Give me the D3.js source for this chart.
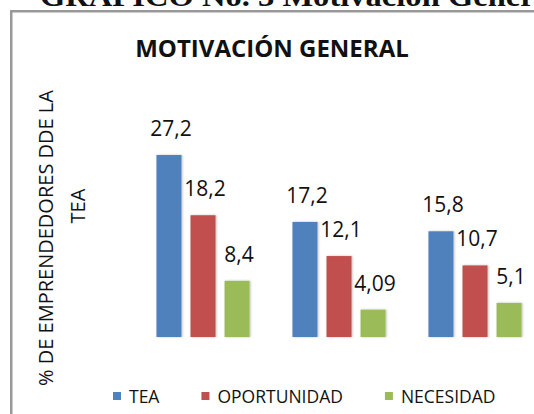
<!DOCTYPE html>
<html>
<head>
<meta charset="utf-8">
<script src="https://cdn.jsdelivr.net/npm/d3@7"></script>
<style>
  html, body { margin: 0; padding: 0; background: #fff; }
  svg { display: block; font-family: "Open Sans", sans-serif; }
</style>
</head>
<body>
<svg id="chart"></svg>
<script>
const width = 534;
const height = 414;

const categories = ["Grupo 1", "Grupo 2", "Grupo 3"];
const series = ["TEA", "OPORTUNIDAD", "NECESIDAD"];
const teaValues = [27.2, 17.2, 15.8];
const oportunidadValues = [18.2, 12.1, 10.7];
const necesidadValues = [8.4, 4.09, 5.1];
const valueLabels = [
  ["27,2", "18,2", "8,4"],
  ["17,2", "12,1", "4,09"],
  ["15,8", "10,7", "5,1"]
];
const colors = ["#4F81BD", "#C0504D", "#9BBB59"];

const svg = d3.select("#chart")
  .attr("width", width)
  .attr("height", height)
  .attr("viewBox", `0 0 ${width} ${height}`);

const defs = svg.append("defs");
const shadow = defs.append("filter")
  .attr("id", "barShadow")
  .attr("x", "-20%").attr("y", "-20%")
  .attr("width", "140%").attr("height", "140%");
shadow.append("feDropShadow")
  .attr("dx", 1).attr("dy", 0)
  .attr("stdDeviation", 1.2)
  .attr("flood-color", "#000")
  .attr("flood-opacity", 0.25);

// caption above the frame, mostly cut off at the top (as in the source page)
svg.append("text")
  .attr("x", 40)
  .attr("y", 6)
  .attr("font-family", "'Liberation Serif', serif")
  .attr("font-weight", "bold")
  .attr("font-size", 30)
  .attr("textLength", 520)
  .attr("lengthAdjust", "spacingAndGlyphs")
  .attr("fill", "#111")
  .text("GRÁFICO No. 3 Motivación General");

// chart frame
svg.append("rect")
  .attr("x", 11.25)
  .attr("y", 11.25)
  .attr("width", 640)
  .attr("height", 520)
  .attr("fill", "none")
  .attr("stroke", "#999")
  .attr("stroke-width", 2.5);

const data = categories.map((c, i) => ({
  category: c,
  values: [teaValues[i], oportunidadValues[i], necesidadValues[i]]
}));

const x0 = d3.scaleBand()
  .domain(categories)
  .range([135, 543])
  .padding(0);

const x1 = d3.scaleBand()
  .domain(series)
  .range([0, x0.bandwidth()])
  .paddingInner(0.265)
  .paddingOuter(0.63);

const y = d3.scaleLinear()
  .domain([0, 30])
  .range([337, 136.3]);

const groups = svg.append("g")
  .selectAll("g")
  .data(data)
  .join("g")
  .attr("transform", d => `translate(${x0(d.category)},0)`);

groups.selectAll("rect")
  .data(d => d.values.map((v, j) => ({ key: series[j], value: v, j })))
  .join("rect")
  .attr("x", d => x1(d.key))
  .attr("y", d => y(d.value))
  .attr("width", x1.bandwidth())
  .attr("height", d => y(0) - y(d.value))
  .attr("fill", d => colors[d.j])
  .attr("filter", "url(#barShadow)");

groups.selectAll("text")
  .data((d, i) => d.values.map((v, j) => ({ key: series[j], value: v, label: valueLabels[i][j] })))
  .join("text")
  .attr("x", d => x1(d.key) + x1.bandwidth() / 2 + 2)
  .attr("y", d => y(d.value) - 19)
  .attr("text-anchor", "middle")
  .attr("font-size", 21)
  .attr("fill", "#111")
  .text(d => d.label);

// title
svg.append("text")
  .attr("x", 272)
  .attr("y", 57)
  .attr("text-anchor", "middle")
  .attr("font-weight", "bold")
  .attr("font-size", 24)
  .attr("fill", "#111")
  .text("MOTIVACIÓN GENERAL");

// y axis title (two lines)
svg.append("text")
  .attr("transform", "translate(53,238) rotate(-90)")
  .attr("text-anchor", "middle")
  .attr("font-size", 20)
  .attr("fill", "#111")
  .text("% DE EMPRENDEDORES DDE LA");

svg.append("text")
  .attr("transform", "translate(85,206) rotate(-90)")
  .attr("text-anchor", "middle")
  .attr("font-size", 20)
  .attr("fill", "#111")
  .text("TEA");

// legend
const legend = svg.append("g").attr("transform", "translate(113,0)");
let lx = 0;
series.forEach((s, i) => {
  const item = legend.append("g").attr("transform", `translate(${lx},0)`);
  item.append("rect")
    .attr("x", 0)
    .attr("y", 392)
    .attr("width", 8)
    .attr("height", 8)
    .attr("fill", colors[i]);
  const t = item.append("text")
    .attr("x", 16)
    .attr("y", 403)
    .attr("font-size", 17.5)
    .attr("fill", "#111")
    .text(s);
  lx += 16 + t.node().getComputedTextLength() + 42;
});
</script>
</body>
</html>
